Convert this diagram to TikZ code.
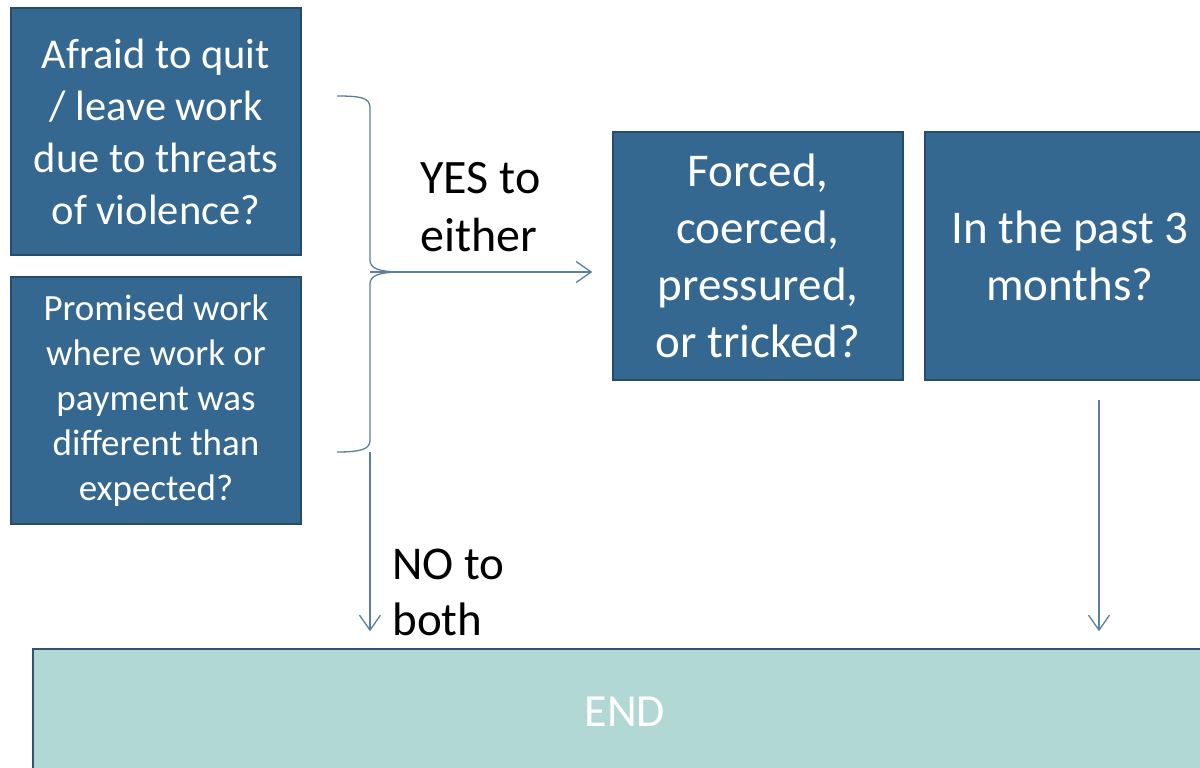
\documentclass[tikz,border=0pt]{standalone}
\usepackage{fontspec}
\setmainfont{Carlito}
\usetikzlibrary{arrows.meta,calc}
\definecolor{boxblue}{HTML}{356890}
\definecolor{boxedge}{HTML}{264C6B}
\definecolor{endfill}{HTML}{B2D8D5}
\definecolor{endedge}{HTML}{2F546E}
\definecolor{linkblue}{HTML}{5B7FA0}

\begin{document}
\begin{tikzpicture}[x=1pt,y=-1pt,
	qbox/.style={draw=boxedge, fill=boxblue, line width=1.5pt, text=white, align=center,
		minimum width=290pt, minimum height=247pt, inner sep=0pt},
	link/.style={draw=linkblue, line width=1.3pt, -{Straight Barb[length=15pt,width=21pt,line width=1.3pt]}},
	brace/.style={draw=linkblue, line width=1.3pt}]
	\useasboundingbox (0,0) rectangle (1200,768);
	\node[qbox, font=\fontsize{42.5}{52}\selectfont] (afraid) at (156,131.5) {Afraid to quit\\/ leave work\\due to threats\\of violence?};
	\node[qbox, font=\fontsize{37}{45}\selectfont] (promised) at (156,400.5) {Promised work\\where work or\\payment was\\different than\\expected?};
	\node[qbox, minimum height=248pt, font=\fontsize{47}{57}\selectfont] (forced) at (758,256) {Forced,\\coerced,\\pressured,\\or tricked?};
	\node[qbox, minimum height=248pt, font=\fontsize{47}{57}\selectfont] (past) at (1070,256) {In the past 3\\months?};
	\node[draw=endedge, fill=endfill, line width=1.5pt, text=white, minimum width=1184pt, minimum height=126pt,
		font=\fontsize{46}{55}\selectfont] (endbox) at (625,712) {END};
	\path
	(337,96) coordinate (T)
	(370,272) coordinate (S)
	(403,272) coordinate (P)
	(337,452) coordinate (B)
	(370,452) coordinate (Q)
	(1099,400) coordinate (R)
	;
	% brace joining the two questions
	\draw[brace] (T) .. controls (362,96) and (370,98) .. (370,108) -- (370,260) .. controls (370,269) and (380,272) .. (P)
		.. controls (380,272) and (370,275) .. (370,284) -- (370,440) .. controls (370,449) and (362,452) .. (B);
	\draw[link, shorten >=20pt] (S) -- (S -| forced.west);
	\draw[link, shorten >=17pt] (Q) -- (Q |- endbox.north);
	\draw[link, shorten >=17pt] (R) -- (R |- endbox.north);
	\node[anchor=west, align=left, font=\fontsize{48}{58}\selectfont] (yes) at (417,207) {YES to\\either};
	\node[anchor=west, align=left, font=\fontsize{47}{56}\selectfont] (no) at (389,592) {NO to\\both};
\end{tikzpicture}
\end{document}
